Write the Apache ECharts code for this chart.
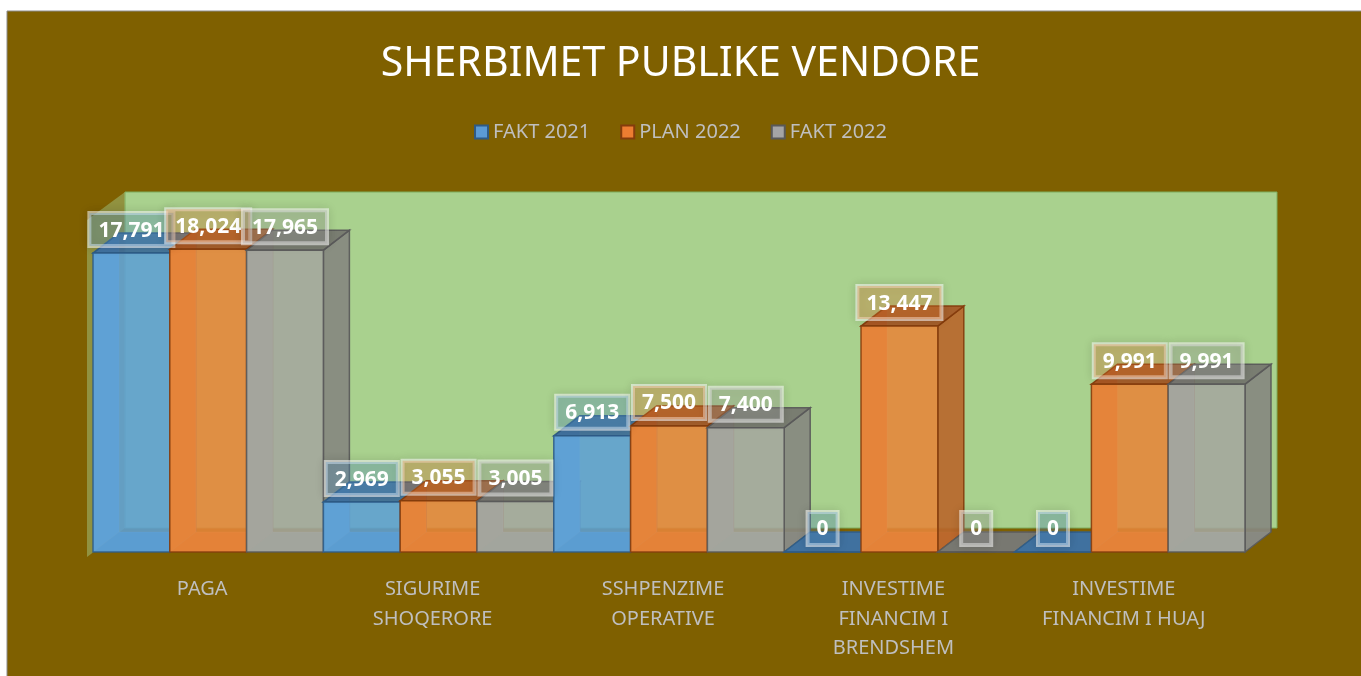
<!DOCTYPE html>
<html>
<head>
<meta charset="utf-8">
<script src="https://cdn.jsdelivr.net/npm/echarts@6/dist/echarts.min.js"></script>
<style>
  html, body { margin: 0; padding: 0; background: #fff; }
  #main { width: 1361px; height: 676px; }
</style>
</head>
<body>
<div id="main"></div>
<script>
// chart data
const categories = ['PAGA', 'SIGURIME\nSHOQERORE', 'SSHPENZIME\nOPERATIVE', 'INVESTIME\nFINANCIM I\nBRENDSHEM', 'INVESTIME\nFINANCIM I HUAJ'];
const seriesNames = ['FAKT 2021', 'PLAN 2022', 'FAKT 2022'];
const fakt2021 = [17791, 2969, 6913, 0, 0];
const plan2022 = [18024, 3055, 7500, 13447, 9991];
const fakt2022 = [17965, 3005, 7400, 0, 9991];

// face colours per series
const palette = [
  { front: '#5d9fd4', side: '#4a80b0', top: '#3f6f9c', inner: '#6aa8d8', bottom: '#4d88bb', edge: '#2e5b86', legend: '#5b9bd5', box: 'rgba(91,155,213,0.3)' },
  { front: '#e6853a', side: '#b8672c', top: '#a65624', inner: '#dc7a3a', bottom: '#d26e28', edge: '#843c0c', legend: '#ed7d31', box: 'rgba(237,125,49,0.3)' },
  { front: '#a4a69e', side: '#878880', top: '#75756f', inner: '#a29b96', bottom: '#979890', edge: '#595959', legend: '#a5a5a5', box: 'rgba(165,165,165,0.3)' }
];
const DX = 26, DY = -20;

function fmt(v) { return v.toLocaleString('en-US'); }

function barRender(s) {
  return function (params, api) {
    const i = api.value(0), v = api.value(1);
    const base = api.coord([i, 0]);
    const top = api.coord([i, v]);
    const band = api.size([1, 0])[0];
    const w = band / 3;
    const x0 = base[0] - band / 2 + s * w, x1 = x0 + w;
    const yb = base[1], yt = top[1];
    const c = palette[s];
    const z = (i * 3 + s) * 10;
    const line = (a, b) => ({ type: 'line', z2: z + 2, silent: true,
      shape: { x1: a[0], y1: a[1], x2: b[0], y2: b[1] },
      style: { stroke: 'rgba(255,255,255,0.18)', lineWidth: 1 } });
    return {
      type: 'group',
      children: [
        { type: 'polygon', z2: z + 1, shape: { points: [[x0, yt], [x0 + DX, yt + DY], [x0 + DX, yb + DY], [x0, yb]] }, style: { fill: c.inner } },
        { type: 'polygon', z2: z + 1, shape: { points: [[x0, yb], [x1, yb], [x1 + DX, yb + DY], [x0 + DX, yb + DY]] }, style: { fill: c.bottom } },
        line([x0 + DX, yt + DY], [x0 + DX, yb + DY]),
        line([x0 + DX, yb + DY], [x1 + DX, yb + DY]),
        line([x0, yb], [x0 + DX, yb + DY]),
        { type: 'polygon', z2: z + 3, shape: { points: [[x1, yt], [x1 + DX, yt + DY], [x1 + DX, yb + DY], [x1, yb]] }, style: { fill: c.side, stroke: c.edge, lineWidth: 1.5, opacity: 0.92 } },
        { type: 'polygon', z2: z + 4, shape: { points: [[x0, yt], [x1, yt], [x1 + DX, yt + DY], [x0 + DX, yt + DY]] }, style: { fill: c.top, stroke: c.edge, lineWidth: 1.5, opacity: 0.92 } },
        { type: 'rect', z2: z + 5, shape: { x: x0, y: yt, width: w, height: yb - yt }, style: { fill: c.front, stroke: c.edge, lineWidth: 1.5, opacity: 0.88 } },
        { type: 'text', z2: 1000 + z, x: (x0 + x1) / 2, y: yt - 7,
          style: { text: fmt(v), fill: '#ffffff', font: 'bold 21px "Noto Sans"', align: 'center', verticalAlign: 'bottom',
            backgroundColor: c.box, borderColor: 'rgba(255,255,255,0.55)', borderWidth: 2, padding: [7, 9, 5, 9],
            shadowBlur: 10, shadowColor: 'rgba(0,0,0,0.22)' } }
      ]
    };
  };
}

function wallRender(params, api) {
  const cs = params.coordSys;
  const xl = cs.x, yt = cs.y, yb = cs.y + cs.height;
  return {
    type: 'group',
    children: [
      { type: 'rect', shape: { x: xl + 32, y: yt - 24, width: cs.width, height: cs.height }, style: { fill: '#a9d18e', stroke: '#7fae5e', lineWidth: 1 } },
      { type: 'polygon', shape: { points: [[xl - 6, yt + 4], [xl + 32, yt - 24], [xl + 32, yb - 24], [xl - 6, yb + 5]] }, style: { fill: 'rgba(169,209,142,0.45)' } }
    ]
  };
}

const allValues = [fakt2021, plan2022, fakt2022];

const chart = echarts.init(document.getElementById('main'));
chart.setOption({
  backgroundColor: '#ffffff',
  animation: false,
  graphic: [{
    type: 'rect', z: -10, silent: true,
    shape: { x: 7, y: 11, width: 1360, height: 670 },
    style: { fill: '#7f6000', stroke: '#8c8c8c', lineWidth: 1 }
  }],
  title: {
    text: 'SHERBIMET PUBLIKE VENDORE',
    left: 'center', top: 39,
    textStyle: { color: '#ffffff', fontSize: 41, fontWeight: 'normal', fontFamily: 'Noto Sans' }
  },
  legend: {
    top: 117, left: 'center',
    itemWidth: 13, itemHeight: 13, itemGap: 30,
    icon: 'rect',
    textStyle: { color: '#bfbfbf', fontSize: 20, fontFamily: 'Noto Sans' },
    data: seriesNames.map((n, k) => ({ name: n, itemStyle: { color: palette[k].legend, borderColor: palette[k].edge, borderWidth: 2 } }))
  },
  grid: { left: 93, right: 116, top: 216, bottom: 124 },
  xAxis: {
    type: 'category', data: categories,
    axisLine: { show: false }, axisTick: { show: false },
    axisLabel: { interval: 0, color: '#bfbfbf', fontSize: 20, lineHeight: 29.5, margin: 23, fontFamily: 'Noto Sans', padding: [0, 12, 0, 0] }
  },
  yAxis: { type: 'value', min: 0, max: 20000, show: false, splitLine: { show: false } },
  series: [
    { type: 'custom', name: 'wall', z: 1, silent: true, renderItem: wallRender, data: [[0, 0]] }
  ].concat(seriesNames.map((n, s) => ({
    type: 'custom', name: n, z: 2,
    itemStyle: { color: palette[s].legend, borderColor: palette[s].edge, borderWidth: 2 },
    renderItem: barRender(s),
    encode: { x: 0, y: 1 },
    data: allValues[s].map((v, i) => [i, v])
  })))
});
</script>
</body>
</html>
